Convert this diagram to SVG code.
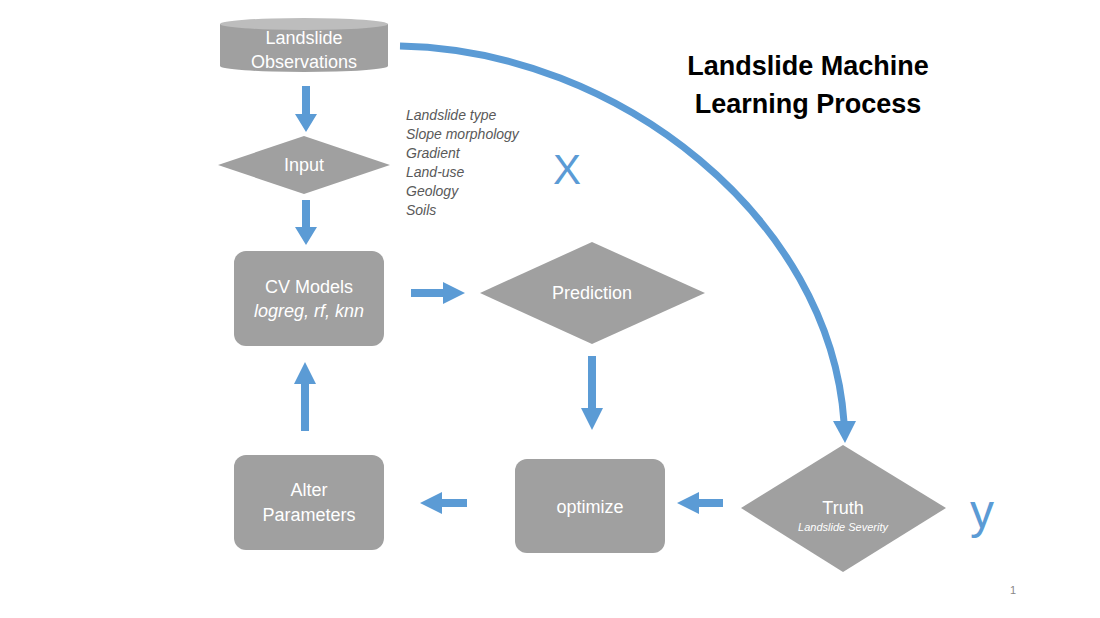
<svg xmlns="http://www.w3.org/2000/svg" width="1100" height="618" viewBox="0 0 1100 618">
<style>
.n{fill:#a0a0a0}
.t{fill:#ffffff;font-family:"Liberation Sans",Arial,sans-serif;font-size:18px;text-anchor:middle}
.it{font-style:italic}
.arr{fill:#5b9bd5}
.lst{fill:#595959;font-family:"Liberation Sans",Arial,sans-serif;font-size:14px;font-style:italic}
.big{fill:#5b9bd5;font-family:"Liberation Sans",Arial,sans-serif;text-anchor:middle}
.title{fill:#000;font-family:"Liberation Sans",Arial,sans-serif;font-size:27px;font-weight:bold;text-anchor:middle}
</style>
<rect width="1100" height="618" fill="#ffffff"/>
<g id="obs">
<path class="n" d="M220,24 L388,24 L388,66 A84,6 0 0 1 220,66 Z"/>
<ellipse cx="304" cy="24" rx="84" ry="6" fill="#bdbdbd"/>
<text class="t" x="304" y="44">Landslide</text>
<text class="t" x="304" y="68">Observations</text>
</g>
<g id="input">
<polygon class="n" points="218,165 304,136 390,165 304,194"/>
<text class="t" x="304" y="171">Input</text>
</g>
<g id="cv">
<rect class="n" x="234" y="251" width="150" height="95" rx="12"/>
<text class="t" x="309" y="293">CV Models</text>
<text class="t it" x="309" y="317">logreg, rf, knn</text>
</g>
<g id="prediction">
<polygon class="n" points="480,293 592,242 705,293 592,344"/>
<text class="t" x="592" y="299">Prediction</text>
</g>
<g id="optimize">
<rect class="n" x="515" y="459" width="150" height="94" rx="12"/>
<text class="t" x="590" y="513">optimize</text>
</g>
<g id="truth">
<polygon class="n" points="741,508 843,445 946,508 843,572"/>
<text class="t" x="843" y="514">Truth</text>
<text class="t it" x="843" y="531" style="font-size:11px">Landslide Severity</text>
</g>
<g id="alter">
<rect class="n" x="234" y="455" width="150" height="95" rx="12"/>
<text class="t" x="309" y="496">Alter</text>
<text class="t" x="309" y="521">Parameters</text>
</g>
<g id="connectors">
<polygon class="arr" points="302,86 310,86 310,114 317,114 306,132 295,114 302,114"/>
<polygon class="arr" points="302,200 310,200 310,227 317,227 306,245 295,227 302,227"/>
<polygon class="arr" points="411,289 443,289 443,282 465,293 443,304 443,297 411,297"/>
<polygon class="arr" points="588,356 596,356 596,408 603,408 592,430 581,408 588,408"/>
<polygon class="arr" points="723,499 699,499 699,492 677,503 699,514 699,507 723,507"/>
<polygon class="arr" points="467,499 442,499 442,492 420,503 442,514 442,507 467,507"/>
<polygon class="arr" points="301,431 309,431 309,384 316,384 305,362 294,384 301,384"/>
<path d="M400,46 C620,50 830,220 844,422" fill="none" stroke="#5b9bd5" stroke-width="7"/>
<polygon class="arr" points="833,421 856,421 845,443"/>
</g>
<g id="labels">
<text class="lst" x="406" y="120">Landslide type</text>
<text class="lst" x="406" y="139">Slope morphology</text>
<text class="lst" x="406" y="158">Gradient</text>
<text class="lst" x="406" y="177">Land-use</text>
<text class="lst" x="406" y="196">Geology</text>
<text class="lst" x="406" y="215">Soils</text>
<text class="big" x="567" y="184" style="font-size:42px">X</text>
<text class="big" x="982" y="528" style="font-size:48px">y</text>
<text class="title" x="808" y="75">Landslide Machine</text>
<text class="title" x="808" y="113">Learning Process</text>
<text x="1013" y="594" style="fill:#888;font-family:'Liberation Sans',Arial,sans-serif;font-size:11px;text-anchor:middle">1</text>
</g>
</svg>
